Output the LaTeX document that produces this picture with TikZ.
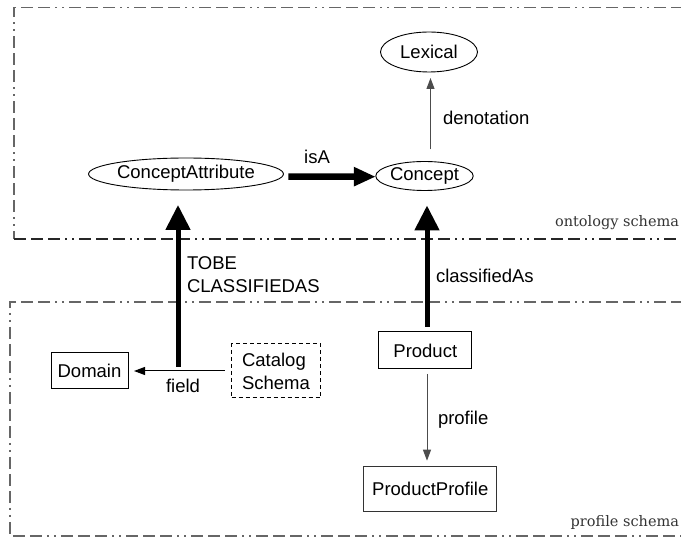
\documentclass[tikz,border=0pt]{standalone}
\usepackage{fontspec}
\setmainfont{Liberation Sans}
\newfontfamily\lblfont{DejaVu Serif}
\usetikzlibrary{arrows.meta,shapes.geometric}
\begin{document}
\begin{tikzpicture}[x=1pt,y=-1pt,
  every node/.style={font=\fontsize{18.5}{23}\selectfont, inner sep=0pt, outer sep=0pt},
  ell/.style={ellipse, draw, line width=0.9pt},
  box/.style={rectangle, draw, line width=1pt},
  framepat/.style={line width=1.3pt,
    dash pattern=on 12pt off 5pt on 12pt off 5pt on 12pt off 5pt on 2pt off 5pt on 2pt off 5pt},
  frame/.style={framepat, draw=black!60},
  framedark/.style={framepat, draw=black!85},
  bigarrow/.style={line width=5pt, -{Triangle[width=24pt,length=25pt]}},
  isaarrow/.style={line width=6.5pt, -{Triangle[width=18pt,length=22pt]}},
  thinarrow/.style={line width=1pt, -{Triangle[width=8pt,length=11pt]}},
  lbl/.style={font=\lblfont\fontsize{14.5}{17}\selectfont, text=black!80}
]
\useasboundingbox (0,0) rectangle (681,537);
\clip (0,0) rectangle (681,537);

% frames
\draw[frame] (700,7.5) -- (14,7.5) -- (14,239);
\draw[framedark] (14,239) -- (700,239);
\draw[frame] (700,302) -- (10,302) -- (10,536) -- (700,536);

% nodes
\node[ell, minimum width=97pt, minimum height=40pt] (lex) at (429,52) {Lexical};
\node[ell, minimum width=97pt, minimum height=29pt] (con) at (424.5,176) {Concept};
\node[ell, minimum width=186pt, minimum height=32pt] (ca) at (186,174) {ConceptAttribute};
\node[box, minimum width=77pt, minimum height=36pt] (dom) at (89.5,371) {Domain};
\node[box, dashed, dash pattern=on 4pt off 3pt, minimum width=89pt, minimum height=54pt, align=left] (cat) at (276,371) {Catalog\\Schema};
\node[box, minimum width=93pt, minimum height=37pt] (prod) at (425.3,350.5) {Product};
\node[box, draw=black!80, minimum width=133pt, minimum height=45pt] (pp) at (430.3,489.2) {ProductProfile};

\coordinate (fieldpt) at (178,367);

% connectors
\draw[isaarrow, shorten <=5pt] ([yshift=-2.5pt]ca.east) -- (con.west |- {(0,176.7)});
\draw[thinarrow, draw=black!70, shorten <=12pt, shorten >=6pt] ([xshift=6pt]con.north) -- ([xshift=6pt]con.north |- lex.south);
\draw[bigarrow, shorten >=15pt] (fieldpt) -- (fieldpt |- ca.south);
\draw[bigarrow, shorten <=5pt, shorten >=15pt] ([xshift=1.7pt]prod.north) -- ([xshift=1.7pt]prod.north |- con.south);
\draw[thinarrow, shorten <=7pt, shorten >=6pt] (cat.west) -- (dom.east);
\draw[thinarrow, draw=black!70, shorten <=5pt, shorten >=6pt] ([xshift=1.7pt]prod.south) -- ([xshift=1.7pt]prod.south |- pp.north);

% labels
\node (lisa) at (317,157) {isA};
\node[anchor=west] (lden) at (443,118) {denotation};
\node[anchor=west, align=left] (ltobe) at (187,274.5) {TOBE\\CLASSIFIEDAS};
\node[anchor=west] (lcls) at (436,276) {classifiedAs};
\node (lfield) at (183,386) {field};
\node[anchor=west] (lprof) at (438,419.3) {profile};
\node[lbl, anchor=east] (lont) at (679,223) {ontology schema};
\node[lbl, anchor=east] (lprs) at (679,522.5) {profile schema};
\end{tikzpicture}
\end{document}
